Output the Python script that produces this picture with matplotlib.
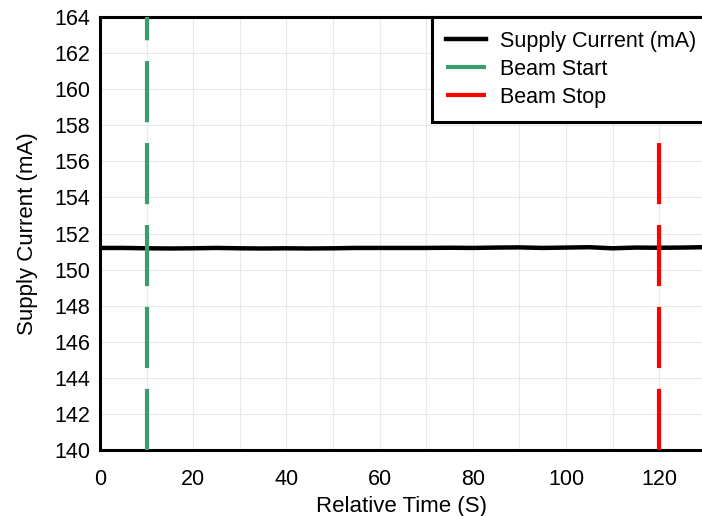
import matplotlib
matplotlib.use("Agg")
import matplotlib.pyplot as plt

plt.rcParams['font.family'] = ['Liberation Sans', 'DejaVu Sans']
plt.rcParams['lines.scale_dashes'] = False

# Data
time_s = [0, 5, 10, 15, 20, 25, 30, 35, 40, 45, 50, 55, 60, 65, 70, 75, 80,
          85, 90, 95, 100, 105, 110, 115, 120, 125, 129.2]
current_ma = [151.20, 151.20, 151.18, 151.17, 151.18, 151.20, 151.18, 151.17,
              151.18, 151.17, 151.18, 151.20, 151.20, 151.20, 151.20, 151.21,
              151.20, 151.22, 151.23, 151.20, 151.22, 151.24, 151.18, 151.22,
              151.21, 151.22, 151.24]
beam_start_x = 10
beam_start_y = [140, 164]
beam_stop_x = 120
beam_stop_y = [140, 157]
x_ticks = [0, 20, 40, 60, 80, 100, 120]
y_ticks = [140, 142, 144, 146, 148, 150, 152, 154, 156, 158, 160, 162, 164]

fig = plt.figure(figsize=(7.02, 5.16), dpi=100)
ax = fig.add_axes([100/702, 1-450/516, 1-100/702, (450-17)/516])

dash = (0, (44, 15))
ax.plot(time_s, current_ma, color='black', lw=3.2, label='Supply Current (mA)', zorder=3)
ax.plot([beam_start_x, beam_start_x], beam_start_y, color='#3a9d6b', lw=3,
        linestyle=dash, dash_capstyle='butt', label='Beam Start', zorder=4)
ax.plot([beam_stop_x, beam_stop_x], beam_stop_y, color='#ff0000', lw=3,
        linestyle=dash, dash_capstyle='butt', label='Beam Stop', zorder=4)

ax.set_xlim(0, 129.2)
ax.set_ylim(140, 164)
ax.set_xticks(x_ticks)
ax.set_xticks(range(10, 130, 20), minor=True)
ax.set_yticks(y_ticks)
ax.grid(True, which='both', color='#e8e8e8', lw=0.8, zorder=0)
ax.tick_params(axis='both', which='both', length=0, labelsize=15.5)
ax.tick_params(axis='y', pad=7)
ax.tick_params(axis='x', pad=14)

for s in ['left', 'bottom', 'top']:
    ax.spines[s].set_linewidth(2.2)
    ax.spines[s].set_color('black')
ax.spines['right'].set_visible(False)

ax.set_xlabel('Relative Time (S)', fontsize=16, labelpad=4)
ax.set_ylabel('Supply Current (mA)', fontsize=16, labelpad=12)

leg = fig.legend(loc='upper left', bbox_to_anchor=(432/702, 1-17/516),
                 fontsize=15.5, frameon=True, fancybox=False, handlelength=1.85,
                 handletextpad=0.65, labelspacing=0.32, borderpad=0.65,
                 borderaxespad=0, framealpha=1)
leg.get_frame().set_edgecolor('black')
leg.get_frame().set_linewidth(2.2)

fig.savefig('out.png', dpi=100)
